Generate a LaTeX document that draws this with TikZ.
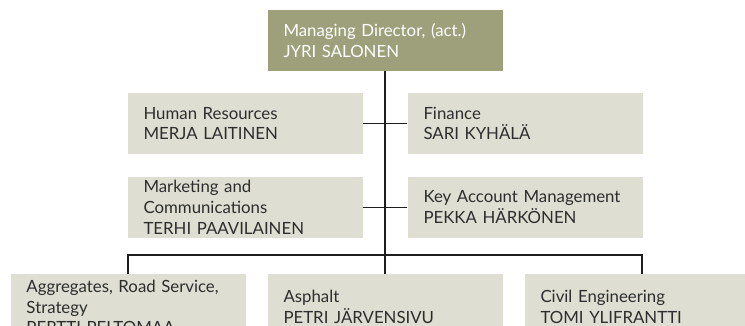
\documentclass[tikz,border=0pt]{standalone}
\usepackage{fontspec}
\setmainfont{Lato}
\usepackage{tikz}
\definecolor{headgreen}{RGB}{157,160,122}
\definecolor{unitgray}{RGB}{222,223,210}
\definecolor{textgray}{RGB}{45,45,45}
\definecolor{linegray}{RGB}{30,30,30}

\begin{document}
\begin{tikzpicture}[x=1pt, y=-1pt,
  unit/.style={fill=unitgray, text=textgray, align=left, text width=203pt,
    inner xsep=16pt, inner ysep=0pt, minimum height=60.7pt,
    font=\fontsize{16.8}{20.7}\selectfont},
  head/.style={unit, fill=headgreen, text=white},
  link/.style={draw=linegray, line width=1.2pt}]

\clip (0,0) rectangle (745,326);

% managing director
\node [head] (md) at (385,40.3) {Managing Director, (act.)\\JYRI SALONEN};

% staff functions
\node [unit] (hr)  at (245,123.5) {Human Resources\\MERJA LAITINEN};
\node [unit] (fin) at (525,123.5) {Finance\\SARI KYHÄLÄ};
\node [unit] (mkt) at (245,207.3) {Marketing and\\Communications\\TERHI PAAVILAINEN};
\node [unit] (kam) at (525,207.3) {Key Account Management\\PEKKA HÄRKÖNEN};

% business units
\node [unit, minimum height=66pt] (agg) at (128,307) {Aggregates, Road Service,\\Strategy\\PERTTI PELTOMAA};
\node [unit, minimum height=66pt] (asp) at (385,307) {Asphalt\\PETRI JÄRVENSIVU};
\node [unit, minimum height=66pt] (civ) at (642,307) {Civil Engineering\\TOMI YLIFRANTTI};

\coordinate (bus) at (385,255);

\draw [link] (md.south) -- (asp.north);
\draw [link] (hr.east) -- (fin.west);
\draw [link] (mkt.east) -- (kam.west);
\draw [link] (agg.north) |- (bus) -| (civ.north);

\end{tikzpicture}
\end{document}
